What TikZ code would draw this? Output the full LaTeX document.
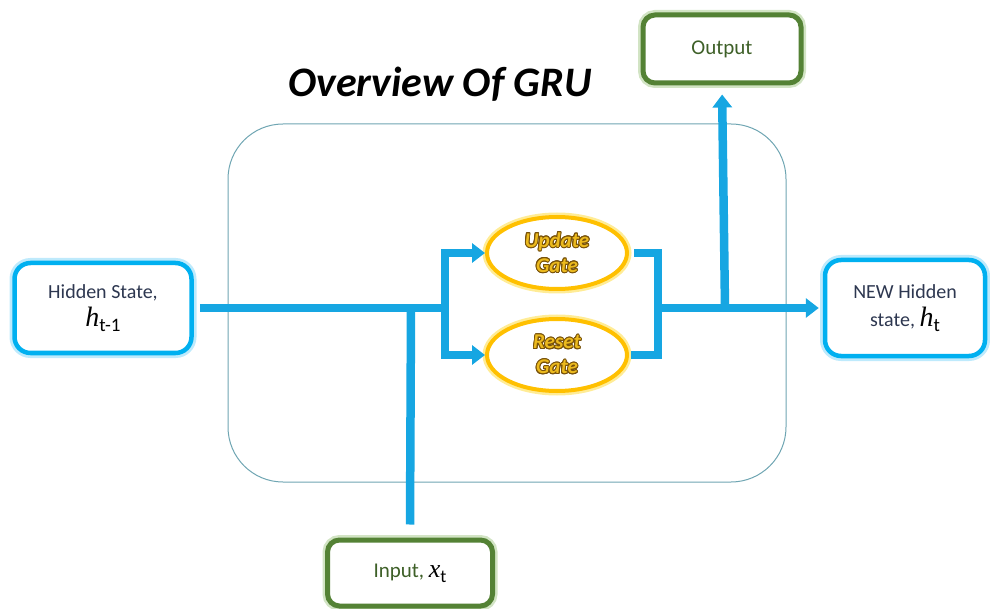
\documentclass[tikz,border=0pt]{standalone}
\usepackage{fontspec}
\setmainfont{Carlito}
\newfontfamily\varfont{Liberation Serif}
\usepackage[copies]{contour}
\usetikzlibrary{arrows.meta, shapes.geometric, positioning}

\definecolor{flow}{RGB}{22,166,226}
\definecolor{boxblue}{RGB}{0,176,240}
\definecolor{glowblue}{RGB}{190,234,252}
\definecolor{boxgreen}{RGB}{84,130,53}
\definecolor{glowgreen}{RGB}{210,228,196}
\definecolor{txtgreen}{RGB}{62,96,40}
\definecolor{txtblue}{RGB}{45,55,80}
\definecolor{gold}{RGB}{255,192,0}
\definecolor{glowgold}{RGB}{255,236,150}
\definecolor{gatefill}{RGB}{236,186,30}
\definecolor{gateline}{RGB}{120,82,10}
\definecolor{frame}{RGB}{110,165,178}

\contourlength{0.9pt}
\newcommand{\gatetext}[1]{\contour{gateline}{\textcolor{gatefill}{#1}}}
% italic variable with upright subscript
\newcommand{\statevar}[2]{{\fontsize{28}{28}\selectfont\varfont\itshape\color{black}#1}%
    \raisebox{-5pt}{\fontsize{19}{19}\selectfont\color{black}#2}}

\begin{document}
\begin{tikzpicture}[x=1pt, y=-1pt, >={Triangle[width=19pt,length=13pt]},
    flowline/.style={draw=flow, line width=8.5pt},
    statebox/.style={draw=boxblue, line width=4.5pt, rounded corners=16pt, fill=white,
        preaction={draw=glowblue, line width=10pt}, text=txtblue, align=center,
        font=\fontsize{20}{28}\selectfont},
    iobox/.style={draw=boxgreen, line width=5pt, rounded corners=12pt, fill=white,
        preaction={draw=glowgreen, line width=10pt}, text=txtgreen,
        font=\fontsize{21}{24}\selectfont},
    gate/.style={ellipse, draw=gold, line width=4pt, fill=white,
        preaction={draw=glowgold, line width=9pt}, minimum width=140pt,
        minimum height=72pt, inner sep=0pt, align=center,
        font=\fontsize{21}{25}\selectfont\bfseries\itshape}]
    \useasboundingbox (0,0) rectangle (990,609);

    % cell frame and title
    \node [draw=frame, line width=1pt, rounded corners=55pt, minimum width=558pt,
        minimum height=358pt] (cell) at (507,303) {};
    \node (title) at (440,84) {\fontsize{42}{42}\selectfont\bfseries\itshape Overview Of GRU};

    % hidden states
    \node [statebox, minimum width=177pt, minimum height=90pt] (hprev) at (103,308)
        {Hidden State,\\\statevar{h}{t-1}};
    \node [statebox, minimum width=160pt, minimum height=96pt] (hnew) at (905,308)
        {NEW Hidden\\state, \statevar{h}{t}};

    % input, output
    \node [iobox, minimum width=158pt, minimum height=68pt] (out) at (722,49) {Output};
    \node [iobox, minimum width=165pt, minimum height=66pt] (in) at (410,573)
        {Input, {\fontsize{26}{26}\selectfont\varfont\itshape\color{black}x}%
        \raisebox{-5pt}{\fontsize{18}{18}\selectfont\color{black}t}};

    % gates
    \node [gate] (update) at (557,253) {\gatetext{Update}\\\gatetext{Gate}};
    \node [gate] (reset) at (557,355) {\gatetext{Reset}\\\gatetext{Gate}};

    \coordinate (join) at (411,308);
    \coordinate (split) at (445,308);
    \coordinate (merge) at (658,308);
    \coordinate (tap) at (725,308);

    % flow lines
    \draw [flowline] ([xshift=6pt]hprev.east) -- (split);
    \draw [flowline] (in.north) ++(0,-13) -- (join);
    \draw [flowline, ->] (split) |- (update.west);
    \draw [flowline, ->] (split) |- (reset.west);
    \draw [flowline] ([xshift=5pt]update.east) -| (merge) |- ([xshift=2pt]reset.east);
    \draw [flowline, ->, shorten >=4pt] (merge) -- (hnew.west);
    \draw [flowline, ->, shorten >=9pt] (tap) -- (out.south);
\end{tikzpicture}
\end{document}
